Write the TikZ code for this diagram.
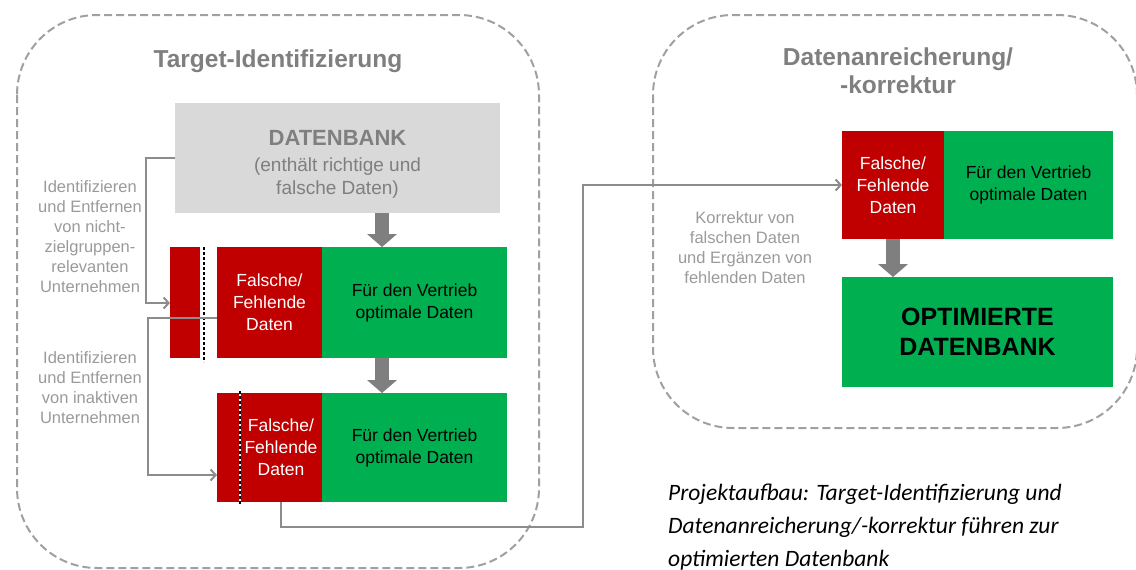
\documentclass[tikz,border=0pt]{standalone}
\usepackage{fontspec}
\setmainfont{Liberation Sans}
\newfontfamily\capfont{Carlito}
\usetikzlibrary{arrows.meta}
\definecolor{myred}{HTML}{C00000}
\definecolor{mygreen}{HTML}{00B050}
\definecolor{dbfill}{HTML}{D9D9D9}
\definecolor{titlegray}{HTML}{7F7F7F}
\definecolor{labelgray}{HTML}{9A9A9A}
\definecolor{conngray}{HTML}{8C8C8C}
\definecolor{dashgray}{HTML}{A0A0A0}
\definecolor{arrowgray}{HTML}{7F7F7F}
\begin{document}
\begin{tikzpicture}[x=1pt,y=-1pt,
  box/.style={anchor=north west, inner sep=0pt, outer sep=0pt, align=center, draw=none},
  redbox/.style={box, fill=myred, text=white, font=\fontsize{17.5}{22}\selectfont},
  greenbox/.style={box, fill=mygreen, text=black, font=\fontsize{17.5}{22}\selectfont},
  dashbox/.style={draw=dashgray, line width=2pt, dash pattern=on 8pt off 4pt, rounded corners=80pt},
  blockarrow/.style={draw=arrowgray, line width=14pt, -{Triangle[width=30pt,length=13pt,line width=0pt]}},
  conn/.style={draw=conngray, line width=2pt, -{Straight Barb[length=5pt,width=11pt,line width=2pt]}},
  lbl/.style={text=labelgray, align=center, inner sep=0pt, font=\fontsize{16.5}{20}\selectfont},
  ttl/.style={text=titlegray, align=center, inner sep=0pt, font=\fontsize{24.5}{28}\selectfont\bfseries},
  sep/.style={line width=2pt},
]
\useasboundingbox (0,0) rectangle (1136,570);

% dashed containers
\draw[dashbox] (17,15) rectangle (539,568);
\draw[dashbox] (653,15) rectangle (1137,428);

% titles
\node[ttl] (t1) at (278,61) {Target-Identifizierung};
\node[ttl] (t2) at (898,71) {Datenanreicherung/\\-korrektur};

% database
\node[box, fill=dbfill, text=titlegray, minimum width=325pt, minimum height=110pt,
      font=\fontsize{19}{23}\selectfont] (db) at (175,103)
  {{\fontsize{22}{26}\selectfont\bfseries\rule{0pt}{27pt}DATENBANK}\\[3pt]
   (enthält richtige und\\
   falsche Daten)};

% row 1
\node[redbox, minimum width=30pt, minimum height=111pt] (s1) at (170,247) {};
\node[redbox, minimum width=105pt, minimum height=111pt] (r1r) at (217,247) {Falsche/\\Fehlende\\Daten};
\node[greenbox, minimum width=185pt, minimum height=111pt] (r1g) at (322,247) {Für den Vertrieb\\optimale Daten};

% row 2
\node[redbox, minimum width=23pt, minimum height=109pt] (s2) at (217,393) {};
\node[redbox, minimum width=82pt, minimum height=109pt] (r2r) at (240,393) {Falsche/\\Fehlende\\Daten};
\node[greenbox, minimum width=185pt, minimum height=109pt] (r2g) at (322,393) {Für den Vertrieb\\optimale Daten};

% right side
\node[redbox, minimum width=102pt, minimum height=108pt] (rr) at (842,131) {Falsche/\\Fehlende\\Daten};
\node[greenbox, minimum width=169pt, minimum height=108pt] (rg) at (944,131) {Für den Vertrieb\\optimale Daten};
\node[greenbox, minimum width=271pt, minimum height=110pt, font=\fontsize{25}{30}\selectfont\bfseries] (opt) at (842,277) {OPTIMIERTE\\DATENBANK};

% separator dashed lines
\draw[sep, white] ([xshift=4pt]s1.north east) -- ([xshift=4pt,yshift=-4pt]s1.south east);
\draw[sep, black, dash pattern=on 3pt off 2pt] ([xshift=4pt]s1.north east) -- ([xshift=4pt,yshift=-4pt]s1.south east);
\draw[sep, white] ([yshift=2pt]s2.north east) -- ([yshift=-2pt]s2.south east);
\draw[sep, black, dash pattern=on 3pt off 2pt] ([yshift=2pt]s2.north east) -- ([yshift=-2pt]s2.south east);

% block arrows
\coordinate (ax) at (382,0);
\draw[blockarrow] (db.south -| ax) -- (r1g.north -| ax);
\draw[blockarrow] (r1g.south -| ax) -- (r2g.north -| ax);
\draw[blockarrow] (rr.south) -- (opt.north -| rr.south);

% connectors
\coordinate (c1) at (146,0);
\draw[conn] (db.west) -- (db.west -| c1) -- ([yshift=-0.5pt]s1.west -| c1) -- ([yshift=-0.5pt]s1.west);
\coordinate (c2s) at ([yshift=-15.5pt]r1r.west);
\coordinate (c2) at (148,0);
\coordinate (c2e) at ([yshift=-27.5pt]s2.west);
\draw[conn] (c2s) -- (c2s -| c2) -- (c2e -| c2) -- (c2e);
\coordinate (b1) at (583,527);
\draw[conn] (r2r.south) -- (r2r.south |- b1) -- (b1) -- (b1 |- rr.west) -- (rr.west);

% labels
\node[lbl] (l1) at (90,237) {Identifizieren\\und Entfernen\\von nicht-\\zielgruppen-\\relevanten\\Unternehmen};
\node[lbl] (l2) at (90,388) {Identifizieren\\und Entfernen\\von inaktiven\\Unternehmen};
\node[lbl] (l3) at (745,248) {Korrektur von\\falschen Daten\\und Ergänzen von\\fehlenden Daten};

% caption
\node[anchor=west, align=left, inner sep=0pt, font=\capfont\itshape\fontsize{23.5}{33}\selectfont] (cap) at (668,527)
  {Projektaufbau: Target-Identifizierung und\\Datenanreicherung/-korrektur führen zur\\optimierten Datenbank};
\end{tikzpicture}
\end{document}
